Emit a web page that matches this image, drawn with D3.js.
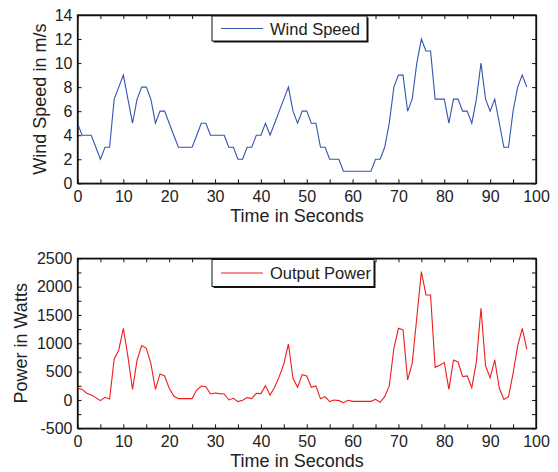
<!DOCTYPE html>
<html>
<head>
<meta charset="utf-8">
<script src="https://cdn.jsdelivr.net/npm/d3@7"></script>
<style>
  body { margin: 0; background: #fff; }
  svg { display: block; font-family: "Liberation Sans", Arial, Helvetica, sans-serif; }
</style>
</head>
<body>
<svg id="chart" width="558" height="472"></svg>
<script>
// ---- data ----
const time = d3.range(0, 99);
const windSpeed = [5,4,4,4,3,2,3,3,7,8,9,7,5,7,8,8,7,5,6,6,
                   5,4,3,3,3,3,4,5,5,4,4,4,4,3,3,2,2,3,3,4,
                   4,5,4,5,6,7,8,6,5,6,6,5,5,3,3,2,2,2,1,1,
                   1,1,1,1,1,2,2,3,5,8,9,9,6,7,10,12,11,11,7,7,
                   7,5,7,7,6,6,5,7,10,7,6,7,5,3,3,6,8,9,8];
const outputPower = [205,190,118,88,41,-12,47,18,718,882,1265,765,188,706,959,912,647,188,459,424,
                     206,70,24,24,24,24,176,247,235,106,124,112,106,0,29,-29,-6,41,24,118,
                     112,253,88,224,412,635,988,382,224,447,424,224,247,20,59,-29,0,-12,-47,-6,
                     -24,-24,-24,-24,-24,12,-41,59,247,912,1265,1235,353,647,1450,2265,1853,1853,576,612,
                     659,188,706,670,412,424,218,676,1618,600,394,706,206,10,59,470,953,1265,894];
const xTicks = d3.range(0, 101, 5);
const xLabels = d3.range(0, 101, 10);
const windTicks = d3.range(0, 15, 2);
const powerTicks = d3.range(-500, 2501, 250);
const powerLabels = d3.range(-500, 2501, 500);

const svg = d3.select("#chart");
const textColor = "#222";

const x = d3.scaleLinear().domain([0, 100]).range([77.5, 536]);

function panel(opts) {
  const y = d3.scaleLinear().domain(opts.yDomain).range([opts.bottom, opts.top]);
  const g = svg.append("g");

  g.append("g").attr("transform", `translate(0,${opts.bottom})`)
    .call(d3.axisBottom(x).tickValues(xTicks).tickSizeInner(-4).tickSizeOuter(0).tickPadding(7)
      .tickFormat(d => xLabels.includes(d) ? d : ""));
  g.append("g").attr("transform", `translate(0,${opts.top})`)
    .call(d3.axisTop(x).tickValues(xTicks).tickSizeInner(-4).tickSizeOuter(0).tickFormat(""));
  g.append("g").attr("transform", `translate(${x.range()[0]},0)`)
    .call(d3.axisLeft(y).tickValues(opts.yTicks).tickSizeInner(-4).tickSizeOuter(0).tickPadding(5)
      .tickFormat(d => opts.yLabels.includes(d) ? d : ""));
  g.append("g").attr("transform", `translate(${x.range()[1]},0)`)
    .call(d3.axisRight(y).tickValues(opts.yTicks).tickSizeInner(-4).tickSizeOuter(0).tickFormat(""));

  g.selectAll(".domain").attr("stroke", "#111").attr("stroke-width", 1.3);
  g.selectAll(".tick line").attr("stroke", "#111");
  g.selectAll(".tick text").attr("font-size", 16).attr("fill", textColor)
    .attr("font-family", "Liberation Sans, Arial, sans-serif");

  const line = d3.line().x((d, i) => x(time[i])).y(d => y(d));
  g.append("path").datum(opts.values)
    .attr("fill", "none").attr("stroke", opts.color).attr("stroke-width", 1.1)
    .attr("d", line);

  g.append("text").attr("x", 297).attr("y", opts.xTitleY)
    .attr("text-anchor", "middle").attr("font-size", 18).attr("fill", textColor)
    .text("Time in Seconds");
  g.append("text")
    .attr("transform", `translate(${opts.yTitleX},${(opts.top + opts.bottom) / 2}) rotate(-90)`)
    .attr("text-anchor", "middle").attr("font-size", 18).attr("fill", textColor)
    .text(opts.yTitle);

  const lg = g.append("g");
  lg.append("rect").attr("x", opts.legend.x + 1.5).attr("y", opts.legend.y + 1.5)
    .attr("width", opts.legend.w).attr("height", opts.legend.h).attr("fill", "#111");
  lg.append("rect").attr("x", opts.legend.x).attr("y", opts.legend.y)
    .attr("width", opts.legend.w).attr("height", opts.legend.h)
    .attr("fill", "#fff").attr("stroke", "#111").attr("stroke-width", 1);
  const ly = opts.legend.y + opts.legend.h / 2;
  lg.append("line").attr("x1", opts.legend.x + 9).attr("x2", opts.legend.x + 51)
    .attr("y1", ly).attr("y2", ly).attr("stroke", opts.color).attr("stroke-width", 1.1);
  lg.append("text").attr("x", opts.legend.x + 58).attr("y", ly + 6)
    .attr("font-size", 16.5).attr("fill", textColor).text(opts.legendText);

  g.append("rect").attr("x", x.range()[0]).attr("y", opts.top)
    .attr("width", x.range()[1] - x.range()[0]).attr("height", opts.bottom - opts.top)
    .attr("fill", "none").attr("stroke", "#111").attr("stroke-width", 1.3);
}

panel({
  yDomain: [0, 14], top: 15, bottom: 183.3,
  yTicks: windTicks, yLabels: windTicks,
  values: windSpeed, color: "#3355b0",
  xTitleY: 222, yTitle: "Wind Speed in m/s", yTitleX: 46,
  legend: { x: 212, y: 16, w: 155, h: 25 }, legendText: "Wind Speed"
});

panel({
  yDomain: [-500, 2500], top: 258.3, bottom: 428.3,
  yTicks: powerTicks, yLabels: powerLabels,
  values: outputPower, color: "#f01c1c",
  xTitleY: 467, yTitle: "Power in Watts", yTitleX: 27,
  legend: { x: 212, y: 259.5, w: 162, h: 27 }, legendText: "Output Power"
});
</script>
</body>
</html>
